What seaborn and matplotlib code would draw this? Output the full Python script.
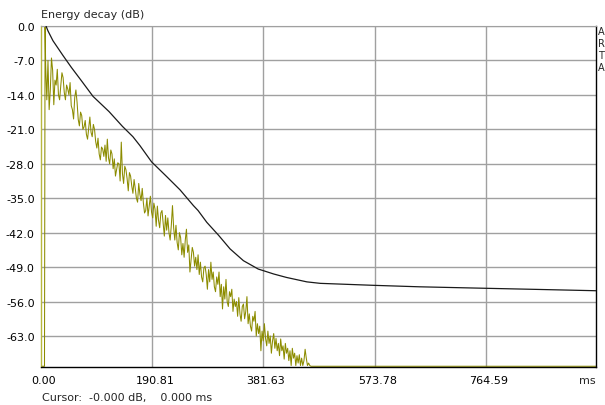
import numpy as np
import pandas as pd
import matplotlib
matplotlib.use("Agg")
import matplotlib.pyplot as plt
import matplotlib.transforms as mtransforms
import seaborn as sns

# ---------------- data ----------------
# Schroeder (energy decay) curve: time (ms), level (dB)
decay_time = [8.6, 12, 20.6, 37.8, 52.1, 69.3, 89.4, 117, 140, 158, 170, 190, 216, 239,
              262, 270, 285, 305, 325, 348, 373.5, 381.6, 400, 422, 457, 480, 571, 650,
              763, 860, 954]
decay_db = [0.0, -1.0, -3.0, -6.0, -8.4, -11.1, -14.3, -17.4, -20.4, -22.5, -24.3, -27.6,
            -30.6, -33.3, -36.5, -37.5, -39.9, -42.5, -45.3, -47.7, -49.4, -49.7,
            -50.4, -51.1, -52.0, -52.3, -52.7, -53.0, -53.3, -53.55, -53.8]

# Energy time curve: direct sound spike, then samples every 2 ms from 8 ms
etc_spike_time = [0, 6, 7]
etc_spike_db = [-80, -80, 0.0]
etc_start_ms = 8
etc_step_ms = 2
etc_db = [
    -8, -15, -7, -17, -13, -6.5, -9, -16, -11, -12,
    -8.8, -14, -15, -12.1, -9.5, -10.5, -13.5, -15, -12, -12.8,
    -14, -11.5, -16.2, -17, -18.9, -14.5, -13, -15.5, -19, -20.3,
    -17.5, -18.2, -21, -20.5, -19.2, -22, -23, -20.8, -18.5, -21.6,
    -22.5, -20, -21, -23.5, -24.8, -22.8, -26, -27.2, -24.6, -25,
    -26.5, -24.2, -27.5, -23, -26.8, -28, -25.2, -26, -29, -27,
    -30.5, -29.2, -27.8, -28, -31.5, -23.6, -30, -32, -28.5, -29.2,
    -31, -33.5, -29.8, -30.5, -32.5, -34, -31.2, -33, -35, -35.8,
    -32, -34.2, -35.5, -33, -36, -38, -37.5, -35, -38.6, -36.5,
    -34.6, -37.8, -39, -36, -37.2, -40.7, -36.6, -39.5, -41, -38,
    -37.5, -40, -42.7, -38.5, -41.5, -39, -42, -43.5, -40.5, -36.5,
    -41, -43.5, -40.5, -44, -45.5, -42, -43, -46.5, -44.2, -47,
    -43.5, -41.3, -46, -44.5, -50, -47.5, -45, -46, -48.8, -47,
    -49.5, -46.5, -50.5, -48, -51, -52, -49.2, -48.8, -50.5, -53.5,
    -49.5, -52, -48, -51.5, -50, -53, -54, -51, -52.5, -50,
    -55, -52.5, -57.5, -53, -55.5, -51.5, -56, -57, -54, -55,
    -53.5, -58, -55.5, -57, -56, -59, -55.2, -58.5, -60, -57,
    -56.5, -59.5, -58, -55, -60.5, -58.5, -61, -62, -59, -60,
    -58, -63, -60.5, -62.5, -61, -66, -62, -64, -60.5, -63.5,
    -65, -62, -64.5, -63, -66.5, -64, -62.5, -65.5, -63.5, -66,
    -64.5, -67, -63.6, -66, -65, -67.7, -64.5, -66.5, -65.5, -68,
    -66, -69, -65.5, -67.5, -66.5, -69, -67, -68.5, -66.8, -69,
    -67.5, -69, -68, -65.7, -67.5, -69, -68.5, -69,
]
etc_tail_time = [464, 954]
etc_tail_db = [-90, -90]

y_ticks = [0.0, -7.0, -14.0, -21.0, -28.0, -35.0, -42.0, -49.0, -56.0, -63.0]
x_ticks = [0.0, 190.81, 381.63, 573.78, 764.59]
x_tick_labels = ["0.00", "190.81", "381.63", "573.78", "764.59"]
legend_letters = ["A", "R", "T", "A"]

# ---------------- figure ----------------
sns.set_style("white")
plt.rcParams["font.family"] = ["DejaVu Sans"]
plt.rcParams["font.size"] = 8

W, H = 605, 406
fig = plt.figure(figsize=(W / 100, H / 100), dpi=100)
fig.patch.set_facecolor("white")
ax = fig.add_axes([41 / W, 1 - 368 / H, 555 / W, 341 / H])
ax.set_facecolor("white")

y_min, y_max = -69.3, 0.0
x_min, x_max = 0.0, 954.0
floor = y_min + 0.15

etc_time = list(etc_spike_time) + list(etc_start_ms + etc_step_ms * np.arange(len(etc_db))) + etc_tail_time
etc_vals = np.maximum(np.array(etc_spike_db + etc_db + etc_tail_db, dtype=float), floor)
etc_df = pd.DataFrame({"t": etc_time, "db": etc_vals})
dec_df = pd.DataFrame({"t": decay_time, "db": decay_db})

grid_c = "#a0a0a0"
for yv in y_ticks:
    ax.axhline(yv, color=grid_c, lw=1.0, zorder=0)
for xv in x_ticks[1:]:
    ax.axvline(xv, color=grid_c, lw=1.0, zorder=0)

sns.lineplot(data=etc_df, x="t", y="db", ax=ax, color="#8c8c00", lw=0.75,
             estimator=None, sort=False, zorder=2)
sns.lineplot(data=dec_df, x="t", y="db", ax=ax, color="#1a1a1a", lw=0.9,
             estimator=None, sort=False, zorder=3)

ax.set_xlim(x_min, x_max)
ax.set_ylim(y_min, y_max)
ax.set_xlabel("")
ax.set_ylabel("")
ax.set_yticks(y_ticks)
ax.set_yticklabels([f"{v:.1f}" for v in y_ticks])
ax.set_xticks(x_ticks)
ax.set_xticklabels(x_tick_labels)
ax.tick_params(axis="both", length=0, labelsize=8, colors="#000000")
ax.tick_params(axis="y", pad=4.5)
ax.tick_params(axis="x", pad=6)
offset = mtransforms.ScaledTranslation(3 / 100, 0, fig.dpi_scale_trans)
for lab in ax.get_xticklabels():
    lab.set_transform(lab.get_transform() + offset)

for side in ["bottom", "right"]:
    ax.spines[side].set_color("#000000")
    ax.spines[side].set_linewidth(1.0)
ax.spines["top"].set_color(grid_c)
ax.spines["left"].set_color("#b8b840")
ax.spines["left"].set_linewidth(1.0)

fig.text(41 / W, 1 - 15 / H, "Energy decay (dB)", ha="left", va="center", fontsize=8)
fig.text(596 / W, 1 - 381 / H, "ms", ha="right", va="center", fontsize=8)
fig.text(42 / W, 1 - 398 / H, "Cursor:  -0.000 dB,    0.000 ms", ha="left", va="center", fontsize=8)
for i, letter in enumerate(legend_letters):
    fig.text(598 / W, 1 - (32 + 12 * i) / H, letter, ha="left", va="center", fontsize=7)

fig.savefig("out.png", dpi=100, facecolor="white")
